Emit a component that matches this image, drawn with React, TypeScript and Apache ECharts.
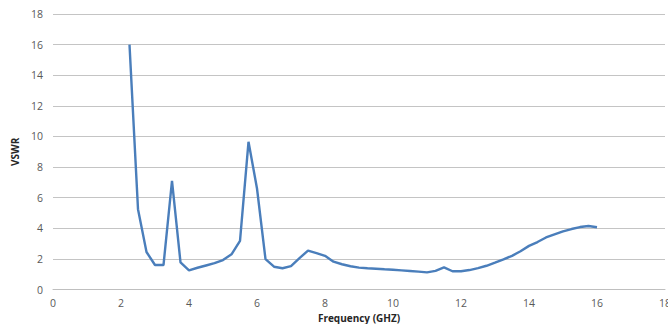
import React, { useEffect, useRef } from "react";
import * as echarts from "echarts";

// Frequency sweep (GHz) and measured VSWR
const frequency: number[] = [
  2.25, 2.5, 2.75, 3.0, 3.25, 3.5, 3.75, 4.0, 4.25, 4.5, 4.75, 5.0, 5.25, 5.5, 5.75, 6.0,
  6.25, 6.5, 6.75, 7.0, 7.25, 7.5, 7.75, 8.0, 8.25, 8.5, 8.75, 9.0, 9.25, 9.5, 9.75, 10.0,
  10.25, 10.5, 10.75, 11.0, 11.25, 11.5, 11.75, 12.0, 12.25, 12.5, 12.75, 13.0, 13.25, 13.5,
  13.75, 14.0, 14.25, 14.5, 14.75, 15.0, 15.25, 15.5, 15.75, 16.0,
];
const vswr: number[] = [
  16.0, 5.25, 2.45, 1.6, 1.6, 7.1, 1.77, 1.25, 1.42, 1.57, 1.72, 1.92, 2.3, 3.18, 9.65, 6.6,
  1.98, 1.49, 1.39, 1.53, 2.05, 2.54, 2.38, 2.2, 1.82, 1.65, 1.52, 1.43, 1.39, 1.36, 1.32, 1.29,
  1.25, 1.21, 1.17, 1.12, 1.22, 1.45, 1.19, 1.19, 1.27, 1.4, 1.55, 1.75, 1.97, 2.2,
  2.5, 2.85, 3.1, 3.4, 3.6, 3.8, 3.95, 4.08, 4.15, 4.07,
];

const FONT = "'Open Sans', 'Liberation Sans', sans-serif";

export default function App() {
  const ref = useRef<HTMLDivElement>(null);

  useEffect(() => {
    if (!ref.current) return;
    const chart = echarts.init(ref.current, undefined, { renderer: "svg" });
    chart.setOption({
      animation: false,
      backgroundColor: "#ffffff",
      grid: {
        left: 53,
        right: 3,
        top: 14,
        bottom: 34.5,
        containLabel: false,
        outerBoundsMode: "none",
      },
      xAxis: {
        type: "value",
        min: 0,
        max: 18,
        interval: 2,
        name: "Frequency (GHZ)",
        nameLocation: "middle",
        nameGap: 22,
        nameTextStyle: { fontFamily: FONT, fontSize: 10, fontWeight: "bold", color: "#262626" },
        axisLine: { show: true, lineStyle: { color: "#bfbfbf", width: 1 } },
        axisTick: { show: false },
        splitLine: { show: false },
        axisLabel: { fontFamily: FONT, fontSize: 10.5, color: "#595959", margin: 8 },
      },
      yAxis: {
        type: "value",
        min: 0,
        max: 18,
        interval: 2,
        name: "VSWR",
        nameLocation: "middle",
        nameGap: 32,
        nameTextStyle: { fontFamily: FONT, fontSize: 10, fontWeight: "bold", color: "#262626" },
        axisLine: { show: false },
        axisTick: { show: false },
        splitLine: { show: true, lineStyle: { color: "#c4c4c4", width: 1 } },
        axisLabel: { fontFamily: FONT, fontSize: 10.5, color: "#595959", margin: 10 },
      },
      series: [
        {
          type: "line",
          data: frequency.map((f, i) => [f, vswr[i]]),
          showSymbol: false,
          symbol: "none",
          lineStyle: { color: "#4a7ebb", width: 2.4 },
        },
      ],
    });
    return () => chart.dispose();
  }, []);

  return (
    <div
      ref={ref}
      style={{ position: "absolute", left: 0, top: 0, width: 668, height: 324 }}
    />
  );
}
